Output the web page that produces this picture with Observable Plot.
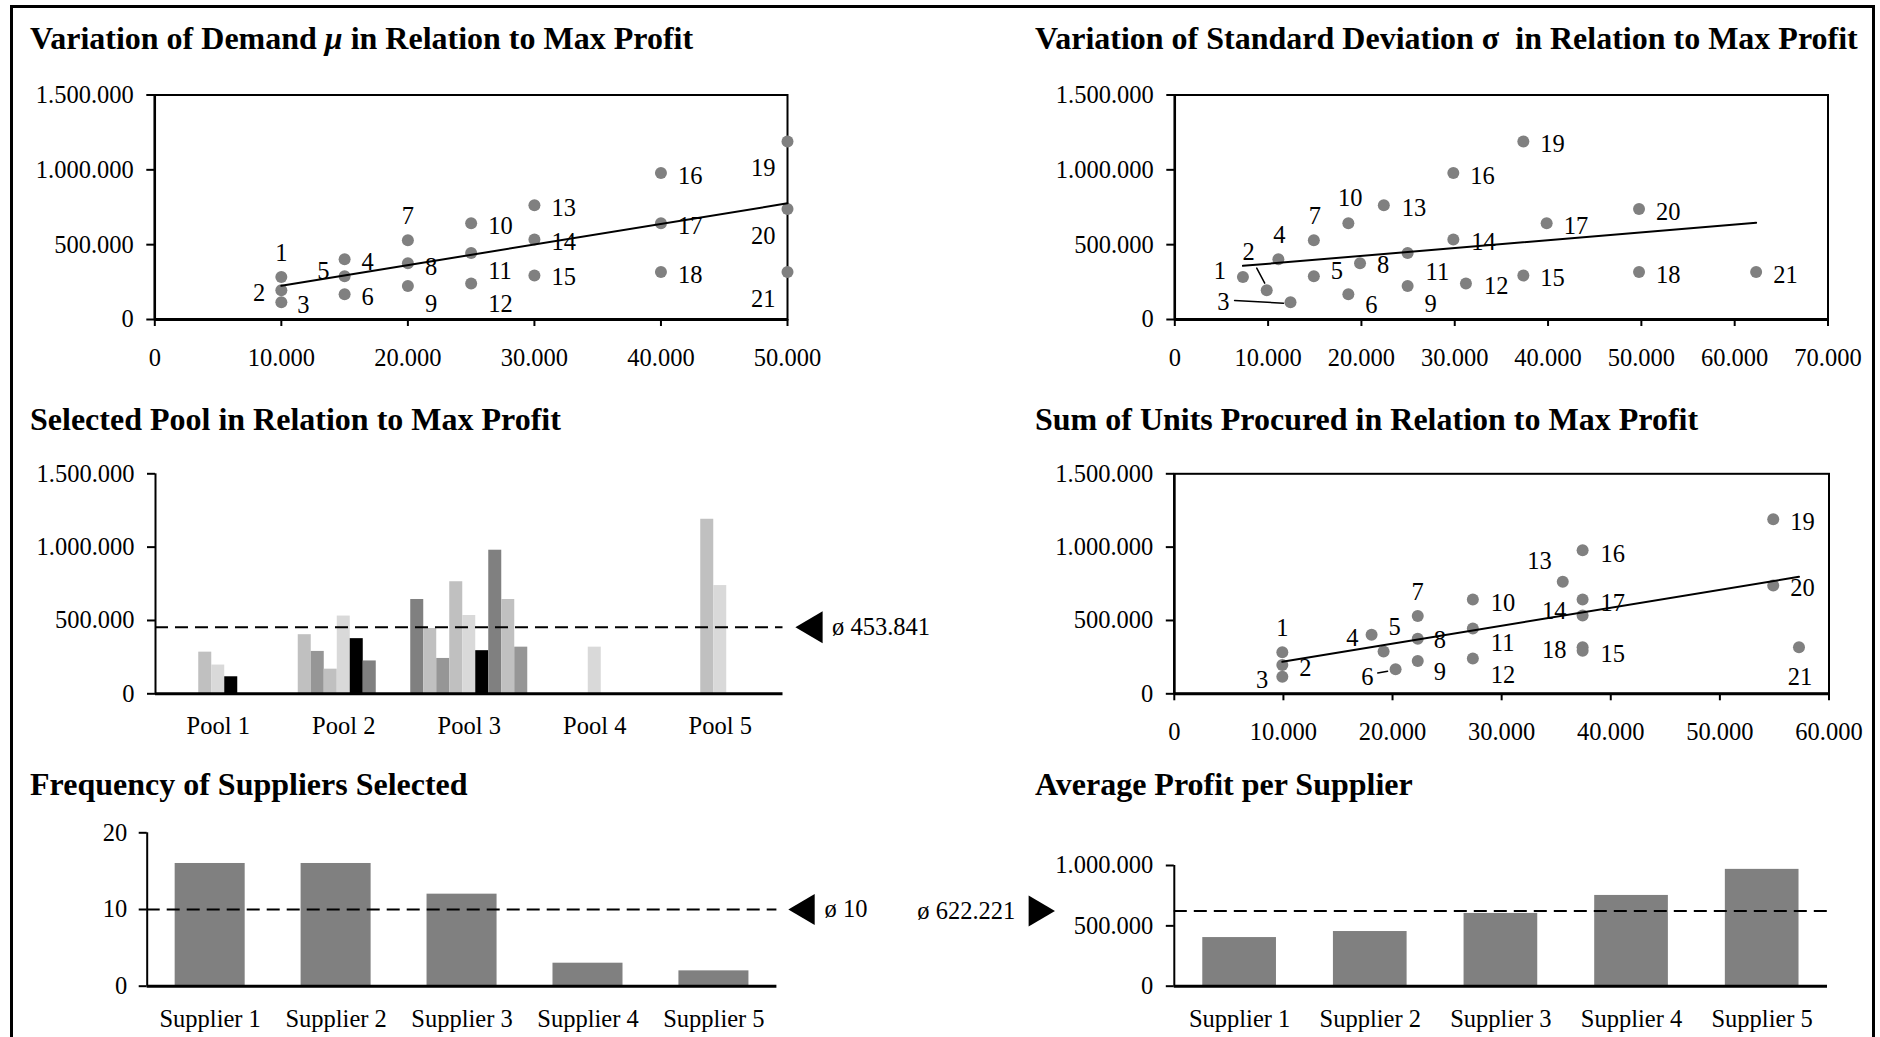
<!DOCTYPE html>
<html>
<head>
<meta charset="utf-8">
<script src="https://cdn.jsdelivr.net/npm/d3@7"></script>
<script src="https://cdn.jsdelivr.net/npm/@observablehq/plot@0.6"></script>
<style>
  html, body { margin: 0; padding: 0; background: #fff; }
  #page { position: relative; width: 1880px; height: 1037px; overflow: hidden; background: #fff;
          font-family: "Liberation Serif", "Times New Roman", serif; color: #000; }
  #border { position: absolute; left: 10px; top: 5px; width: 1865px; height: 1060px;
            border: 3px solid #000; box-sizing: border-box; }
  .title { position: absolute; font-weight: bold; font-size: 32px; line-height: 1; white-space: pre; }
  .panel { position: absolute; }
  .panel svg { overflow: visible; display: block; }
</style>
</head>
<body>
<div id="page"><div id="border"></div></div>
<script>
// ---------------- data ----------------
const scenarios   = [1,2,3,4,5,6,7,8,9,10,11,12,13,14,15,16,17,18,19,20,21];
const demandMu    = [10000,10000,10000,15000,15000,15000,20000,20000,20000,25000,25000,25000,30000,30000,30000,40000,40000,40000,50000,50000,50000];
const stdDevSigma = [7300,9850,12400,11100,14900,18600,14900,19850,24950,18600,24950,31200,22400,29850,37350,29850,39850,49750,37350,49750,62300];
const unitsProcured = [9900,9900,9900,18080,19180,20280,22310,22310,22310,27360,27360,27360,35600,37420,37420,37420,37420,37420,54890,54890,57250];
const maxProfit   = [284000,196000,116000,403000,289000,168000,530000,376000,224000,643000,445000,241000,764000,534000,294000,979000,643000,318000,1190000,738000,318000];
const selectedPool = [1,1,1,2,2,2,2,2,2,3,3,3,3,3,3,3,3,3,5,5,4];
const barShade    = ["B","D","E","B","C","B","D","E","A","A","B","C","B","D","E","A","B","C","B","D","D"];

const pools = ["Pool 1","Pool 2","Pool 3","Pool 4","Pool 5"];
const suppliers = ["Supplier 1","Supplier 2","Supplier 3","Supplier 4","Supplier 5"];
const supplierFrequency = [16,16,12,3,2];
const avgProfitPerSupplier = [403000,453000,603000,752000,968000];

const avgPoolProfit = 453841;
const avgFrequency = 10;
const avgSupplierProfit = 622221;

const profitTicks = [0,500000,1000000,1500000];
const demandTicks = [0,10000,20000,30000,40000,50000];
const sigmaTicks  = [0,10000,20000,30000,40000,50000,60000,70000];
const unitsTicks  = [0,10000,20000,30000,40000,50000,60000];
const freqTicks   = [0,10,20];
const avgProfitTicks = [0,500000,1000000];

// ---------------- layout (label placement: anchor, dx, dy in px) ----------------
const placeMu = [["middle",0,-24],["end",-16,3],["start",16,3],["start",17,3],["end",-15,-5],["start",17,3],["middle",0,-24],["start",17,4],["start",17,18],["start",17,3],["start",17,18],["start",17,21],["start",17,3],["start",17,3],["start",17,2],["start",17,3],["start",17,3],["start",17,3],["end",-12,27],["end",-12,27],["end",-12,27]];
const placeSigma = [["end",-17,-6],["middle",-18,-38],["end",-61,0],["middle",1,-24],["start",17,-5],["start",17,11],["middle",1,-24],["start",17,2],["start",17,18],["middle",2,-25],["start",18,19],["start",18,3],["start",18,3],["start",18,3],["start",17,3],["start",17,3],["start",17,3],["start",17,3],["start",17,3],["start",17,3],["start",17,3]];
const placeUnits = [["middle",0,-24],["start",17,3],["end",-14,3],["end",-13,3],["middle",11,-24],["end",-22,8],["middle",0,-24],["start",16,2],["start",16,11],["start",18,4],["start",18,15],["start",18,17],["end",-11,-21],["end",-16,-4],["start",18,3],["start",18,4],["start",18,4],["end",-16,3],["start",17,3],["start",17,3],["middle",1,30]];
const leadersSigma = [{id:2, dx:-2, dy:-7, length:17, rotate:-28},{id:3, dx:-7, dy:1, length:49, rotate:-87}];
const leadersUnits = [{id:6, dx:-8, dy:2, length:10, rotate:-100}];

// ---------------- helpers ----------------
const fmtDe = d3.formatLocale({decimal: ",", thousands: ".", grouping: [3], currency: ["", ""]}).format(",d");
const page = document.getElementById("page");
const FONT = '"Liberation Serif", "Times New Roman", serif';
const TITLE_SIZE = 32;

const rows = scenarios.map((id, i) => ({id, mu: demandMu[i], sigma: stdDevSigma[i], units: unitsProcured[i],
  profit: maxProfit[i], pool: selectedPool[i], shade: barShade[i]}));

const triLeft = {draw(ctx, size) { const r = Math.sqrt(size / Math.PI); ctx.moveTo(-0.85*r, 0); ctx.lineTo(0.85*r, -r); ctx.lineTo(0.85*r, r); ctx.closePath(); }};
const triRight = {draw(ctx, size) { const r = Math.sqrt(size / Math.PI); ctx.moveTo(0.85*r, 0); ctx.lineTo(-0.85*r, -r); ctx.lineTo(-0.85*r, r); ctx.closePath(); }};
const lineShape = {draw(ctx, l) { ctx.moveTo(0, 0); ctx.lineTo(0, -l); }};

function addTitle(html, left, baseline) {
  const d = document.createElement("div");
  d.className = "title";
  d.innerHTML = html;
  d.style.left = left + "px";
  d.style.top = (baseline - 0.8375 * TITLE_SIZE) + "px";
  page.appendChild(d);
}

function addPanel(box, area, options) {
  const opts = Object.assign({
    width: box.w, height: box.h,
    marginLeft: area.x0 - box.l, marginRight: box.l + box.w - area.x1,
    marginTop: area.y0 - box.t, marginBottom: box.t + box.h - area.y1,
    style: {fontFamily: FONT, fontSize: "24.5px", background: "transparent", overflow: "visible", color: "#000"}
  }, options);
  const svg = Plot.plot(opts);
  const div = document.createElement("div");
  div.className = "panel";
  Object.assign(div.style, {left: box.l + "px", top: box.t + "px", width: box.w + "px", height: box.h + "px"});
  div.appendChild(svg);
  page.appendChild(div);
}

function scatterMarks(xKey, xTicks, placement, leaders) {
  const marks = [
    Plot.frame({stroke: "#000", strokeWidth: 2}),
    Plot.axisY({ticks: profitTicks, tickFormat: fmtDe, tickSize: 8, tickPadding: 13, strokeWidth: 2, label: null}),
    Plot.axisX({ticks: xTicks, tickFormat: fmtDe, tickSize: 7, tickPadding: 22, strokeWidth: 2, label: null}),
    Plot.ruleX([0], {stroke: "#000", strokeWidth: 2.5}),
    Plot.ruleY([0], {stroke: "#000", strokeWidth: 3}),
    Plot.dot(rows, {x: xKey, y: "profit", r: 6, fill: "#808080", stroke: "none"}),
    Plot.linearRegressionY(rows, {x: xKey, y: "profit", ci: 0, stroke: "#000", strokeWidth: 2})
  ];
  rows.forEach((r, i) => {
    marks.push(Plot.text([r], {x: xKey, y: "profit", text: d => String(d.id),
      textAnchor: placement[i][0], dx: placement[i][1], dy: placement[i][2], lineAnchor: "middle", fill: "#000"}));
  });
  const leaderMarks = (leaders || []).map(L => Plot.vector(rows.filter(r => r.id === L.id), {
    x: xKey, y: "profit", dx: L.dx, dy: L.dy, length: L.length, rotate: L.rotate,
    anchor: "start", shape: lineShape, stroke: "#000", strokeWidth: 1.5}));
  return {marks, leaderMarks};
}

function scatterPanel(box, area, xKey, xTicks, placement, leaders) {
  const {marks, leaderMarks} = scatterMarks(xKey, xTicks, placement, leaders);
  const scales = {x: {domain: [xTicks[0], xTicks[xTicks.length - 1]]}, y: {domain: [0, profitTicks[profitTicks.length - 1]]}};
  try {
    addPanel(box, area, {...scales, marks: [...marks, ...leaderMarks]});
  } catch (e) {
    addPanel(box, area, {...scales, marks});
  }
}

// ---------------- titles ----------------
addTitle('Variation of Demand <i>μ</i> in Relation to Max Profit', 30, 48.3);
addTitle('Variation of Standard Deviation σ  in Relation to Max Profit', 1035, 48.3);
addTitle('Selected Pool in Relation to Max Profit', 30, 429.3);
addTitle('Sum of Units Procured in Relation to Max Profit', 1035, 429.3);
addTitle('Frequency of Suppliers Selected', 30, 795);
addTitle('Average Profit per Supplier', 1035, 795);

// ---------------- panel 1: demand ----------------
scatterPanel({l: 0, t: 60, w: 940, h: 320}, {x0: 154.3, x1: 787, y0: 94.5, y1: 319},
  "mu", demandTicks, placeMu, []);

// ---------------- panel 2: sigma ----------------
scatterPanel({l: 940, t: 60, w: 940, h: 320}, {x0: 1174.3, x1: 1827.5, y0: 94.5, y1: 319},
  "sigma", sigmaTicks, placeSigma, leadersSigma);

// ---------------- panel 4: units ----------------
scatterPanel({l: 940, t: 440, w: 940, h: 310}, {x0: 1173.8, x1: 1828.5, y0: 473.3, y1: 693.3},
  "units", unitsTicks, placeUnits, leadersUnits);

// ---------------- panel 3: selected pool ----------------
const poolBars = [];
pools.forEach((name, p) => {
  const members = rows.filter(r => r.pool === p + 1);
  members.forEach((r, j) => poolBars.push({...r, j, n: members.length}));
});
const BAR_W = 0.1036;
const catDomain = [0.5, pools.length + 0.5];
addPanel({l: 0, t: 440, w: 940, h: 310}, {x0: 155, x1: 782.5, y0: 473.3, y1: 693.3}, {
  x: {domain: catDomain},
  y: {domain: [0, profitTicks[profitTicks.length - 1]]},
  color: {type: "ordinal", domain: ["A","B","C","D","E"], range: ["#808080","#c0c0c0","#969696","#d9d9d9","#000000"]},
  marks: [
    Plot.rectY(poolBars, {
      x1: d => d.pool + (d.j - Math.floor(d.n / 2) - 0.5) * BAR_W,
      x2: d => d.pool + (d.j - Math.floor(d.n / 2) + 0.5) * BAR_W,
      y1: 0, y2: "profit", fill: "shade"}),
    Plot.axisY({ticks: profitTicks, tickFormat: fmtDe, tickSize: 8, tickPadding: 13, strokeWidth: 2, label: null}),
    Plot.axisX({ticks: pools.map((p, i) => i + 1), tickFormat: i => pools[i - 1], tickSize: 0, tickPadding: 22.6, label: null}),
    Plot.ruleX([catDomain[0]], {stroke: "#000", strokeWidth: 2}),
    Plot.ruleY([0], {stroke: "#000", strokeWidth: 3}),
    Plot.ruleY([avgPoolProfit], {stroke: "#000", strokeWidth: 2, strokeDasharray: "13,7"}),
    Plot.dot([avgPoolProfit], {y: d => d, frameAnchor: "right", dx: 26, symbol: triLeft, r: 16, fill: "#000", stroke: "none"}),
    Plot.text([avgPoolProfit], {y: d => d, frameAnchor: "right", dx: 49, textAnchor: "start", lineAnchor: "middle",
      text: d => "ø " + fmtDe(d), fill: "#000"})
  ]
});

// ---------------- panel 5: frequency ----------------
const supRows = suppliers.map((s, i) => ({i: i + 1, name: s, freq: supplierFrequency[i], avg: avgProfitPerSupplier[i]}));
addPanel({l: 0, t: 800, w: 880, h: 237}, {x0: 146.7, x1: 776.4, y0: 832.3, y1: 985.7}, {
  x: {domain: catDomain},
  y: {domain: [0, freqTicks[freqTicks.length - 1]]},
  marks: [
    Plot.rectY(supRows, {x1: d => d.i - 0.278, x2: d => d.i + 0.278, y1: 0, y2: "freq", fill: "#808080"}),
    Plot.axisY({ticks: freqTicks, tickFormat: fmtDe, tickSize: 8, tickPadding: 12, strokeWidth: 2, label: null}),
    Plot.axisX({ticks: supRows.map(d => d.i), tickFormat: i => suppliers[i - 1], tickSize: 0, tickPadding: 23.5, label: null}),
    Plot.ruleX([catDomain[0]], {stroke: "#000", strokeWidth: 2}),
    Plot.ruleY([0], {stroke: "#000", strokeWidth: 3}),
    Plot.ruleY([avgFrequency], {stroke: "#000", strokeWidth: 2, strokeDasharray: "13,7"}),
    Plot.dot([avgFrequency], {y: d => d, frameAnchor: "right", dx: 24.6, symbol: triLeft, r: 15.5, fill: "#000", stroke: "none"}),
    Plot.text([avgFrequency], {y: d => d, frameAnchor: "right", dx: 47.6, textAnchor: "start", lineAnchor: "middle",
      text: d => "ø " + fmtDe(d), fill: "#000"})
  ]
});

// ---------------- panel 6: average profit per supplier ----------------
addPanel({l: 880, t: 800, w: 1000, h: 237}, {x0: 1173.8, x1: 1827, y0: 865, y1: 985.7}, {
  x: {domain: catDomain},
  y: {domain: [0, avgProfitTicks[avgProfitTicks.length - 1]]},
  marks: [
    Plot.rectY(supRows, {x1: d => d.i - 0.282, x2: d => d.i + 0.282, y1: 0, y2: "avg", fill: "#808080"}),
    Plot.axisY({ticks: avgProfitTicks, tickFormat: fmtDe, tickSize: 8, tickPadding: 13, strokeWidth: 2, label: null}),
    Plot.axisX({ticks: supRows.map(d => d.i), tickFormat: i => suppliers[i - 1], tickSize: 0, tickPadding: 23.5, label: null}),
    Plot.ruleX([catDomain[0]], {stroke: "#000", strokeWidth: 2}),
    Plot.ruleY([0], {stroke: "#000", strokeWidth: 3}),
    Plot.ruleY([avgSupplierProfit], {stroke: "#000", strokeWidth: 2, strokeDasharray: "13,7"}),
    Plot.dot([avgSupplierProfit], {y: d => d, frameAnchor: "left", dx: -132.5, symbol: triRight, r: 15.5, fill: "#000", stroke: "none"}),
    Plot.text([avgSupplierProfit], {y: d => d, frameAnchor: "left", dx: -159, textAnchor: "end", lineAnchor: "middle",
      text: d => "ø " + fmtDe(d), fill: "#000"})
  ]
});
</script>
</body>
</html>
